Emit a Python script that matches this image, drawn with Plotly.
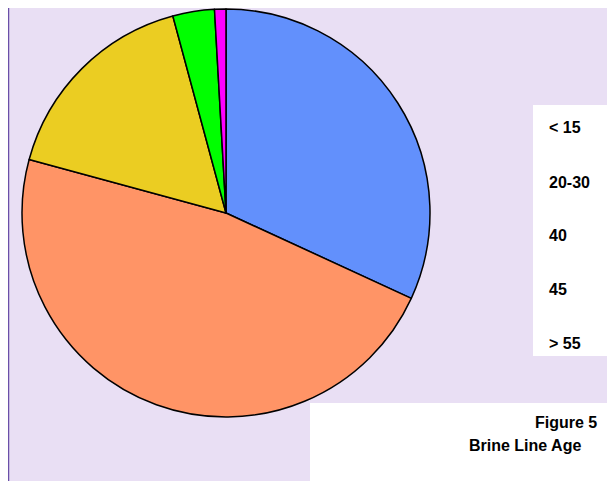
import plotly.graph_objects as go

labels = ["< 15", "20-30", "40", "45", "> 55"]
values = [31.9, 47.4, 16.6, 3.3, 0.9]
colors = ["#6290FC", "#FF9466", "#EBCD22", "#00FF00", "#FF00FF"]
title_lines = ["Figure 5", "Brine Line Age"]

W, H = 615, 481
LAV = "#E9DFF4"
FONT = "Liberation Sans, Arial, sans-serif"

def fx(p):
    return p / W

def fy(p):
    return 1 - p / H

cx, cy, r = 218, 205, 204

fig = go.Figure()
fig.add_trace(go.Pie(
    labels=labels, values=values, sort=False, direction="clockwise", rotation=0,
    marker=dict(colors=colors, line=dict(color="black", width=1.5)),
    textinfo="none", hoverinfo="label+percent", showlegend=False,
    domain=dict(x=[fx(cx - r), fx(cx + r)], y=[fy(cy + r), fy(cy - r)]),
))

shapes = [
    dict(type="line", xref="paper", yref="paper", x0=fx(0.5), x1=fx(0.5), y0=0, y1=1,
         line=dict(color="#6A4FA8", width=1.5), layer="below"),
    dict(type="rect", xref="paper", yref="paper", x0=fx(525), x1=fx(603), y0=fy(348), y1=fy(97),
         fillcolor="white", line=dict(width=0), layer="below"),
    dict(type="rect", xref="paper", yref="paper", x0=fx(302), x1=1, y0=0, y1=fy(395),
         fillcolor="white", line=dict(width=0), layer="below"),
]

annotations = []
ys = [119, 174, 227, 281, 335]
for lab, yy in zip(labels, ys):
    annotations.append(dict(
        text="<b>" + lab + "</b>", xref="paper", yref="paper", x=fx(539), y=fy(yy),
        xanchor="left", yanchor="middle", showarrow=False,
        font=dict(family=FONT, size=16, color="black")))

annotations.append(dict(
    text="<b>" + title_lines[0] + "</b>", xref="paper", yref="paper", x=fx(591), y=fy(414),
    xanchor="right", yanchor="middle", showarrow=False,
    font=dict(family=FONT, size=16, color="black")))
annotations.append(dict(
    text="<b>" + title_lines[1] + "</b>", xref="paper", yref="paper", x=fx(575), y=fy(437),
    xanchor="right", yanchor="middle", showarrow=False,
    font=dict(family=FONT, size=16, color="black")))

fig.update_layout(
    width=W, height=H, autosize=False,
    margin=dict(l=0, r=0, t=0, b=0),
    paper_bgcolor=LAV, plot_bgcolor=LAV,
    shapes=shapes, annotations=annotations,
)

fig.write_html("out.html")
